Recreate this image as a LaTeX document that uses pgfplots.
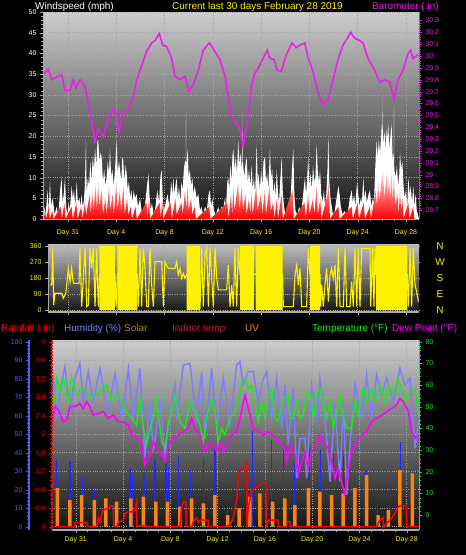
\documentclass[border=0pt]{standalone}
\usepackage{fontspec}
\setmainfont{Liberation Sans}
\usepackage{pgfplots}
\pgfplotsset{compat=1.18}
\definecolor{bgtop}{RGB}{205,205,205}
\definecolor{bgtoptwo}{RGB}{190,190,190}
\definecolor{bgbot}{RGB}{20,20,20}
\definecolor{baro}{RGB}{235,30,235}
\definecolor{humid}{RGB}{125,125,255}
\definecolor{humaxis}{RGB}{90,90,255}
\definecolor{solarc}{RGB}{30,40,255}
\definecolor{uvc}{RGB}{255,130,20}
\definecolor{tempg}{RGB}{20,240,20}
\definecolor{dew}{RGB}{255,0,255}
\definecolor{olivec}{RGB}{150,150,0}
\definecolor{indoor}{RGB}{200,30,70}
\definecolor{gridc}{RGB}{165,165,165}
\definecolor{axgray}{RGB}{170,170,170}
\newcommand{\tf}{\fontsize{10}{12}\selectfont}
\pgfplotsset{
  base/.style={scale only axis, anchor=south west,
    /pgf/number format/assume math mode=true,
    tick label style={font=\fontsize{7}{8}\selectfont},
    tick align=outside, major tick length=3bp, minor tick length=1.5bp,
    grid style={dotted, gridc, line width=0.5bp}},
  daylabels/.style={xtick={0,4,...,28},
    xticklabels={Day 31,Day 4,Day 8,Day 12,Day 16,Day 20,Day 24,Day 28},
    xticklabel style={text=yellow}}
}
\begin{document}
\begin{tikzpicture}
\fill[black] (0,0) rectangle (466bp,-555bp);

% ---------------- Panel 1: wind speed ----------------
\begin{axis}[base, daylabels, at={(43bp,-219bp)}, width=376bp, height=207bp,
  xmin=-2.07, xmax=29.08, ymin=0, ymax=50,
  axis background/.style={top color=bgtop, bottom color=bgbot},
  axis x line*=bottom, axis y line*=left,
  x axis line style={axgray, line width=1.5bp},
  y axis line style={axgray, line width=1bp},
  tick style={axgray}, minor x tick num=3,
  ytick={0,5,...,50}, minor y tick num=4,
  yticklabel style={text=white},
  xticklabel style={yshift=-4bp},
  xmajorgrids, ymajorgrids]
\addplot[fill=white, draw=none] coordinates {
(-2.05,0) (-1.95,3) (-1.85,1) (-1.70,7) (-1.60,2) (-1.49,9) (-1.40,3) (-1.30,5) (-1.22,4) (-1.10,1)
(-0.95,3) (-0.80,1) (-0.65,7) (-0.53,10) (-0.45,4) (-0.35,6) (-0.25,10) (-0.15,3) (-0.05,1) (0.05,4)
(0.15,2) (0.30,8) (0.40,5) (0.50,7) (0.60,3) (0.72,9) (0.82,4) (0.95,5) (1.05,3) (1.13,6)
(1.22,3) (1.30,4) (1.40,8) (1.49,19) (1.55,6) (1.65,10) (1.75,8) (1.85,14) (1.95,9) (2.05,15)
(2.15,12) (2.24,17) (2.35,13) (2.45,19) (2.51,19) (2.60,14) (2.70,16) (2.79,15) (2.90,9) (3.00,12)
(3.10,8) (3.20,10) (3.30,14) (3.40,11) (3.48,17) (3.58,10) (3.68,12) (3.78,8) (3.90,12) (4.03,19)
(4.12,11) (4.22,14) (4.31,12) (4.42,9) (4.50,15) (4.58,14) (4.68,9) (4.78,13) (4.86,11) (4.95,7)
(5.05,9) (5.15,5) (5.25,7) (5.35,4) (5.45,7) (5.55,5) (5.69,6) (5.80,3) (5.97,5) (6.10,2)
(6.25,1) (6.40,4) (6.55,8) (6.66,11) (6.75,6) (6.85,2) (6.95,4) (7.10,1) (7.25,3) (7.40,7)
(7.55,4) (7.65,10) (7.76,12) (7.85,5) (7.95,2) (8.10,4) (8.25,6) (8.40,3) (8.55,9) (8.65,6)
(8.73,10) (8.82,6) (8.90,8) (9.00,10) (9.10,5) (9.20,8) (9.30,4) (9.40,9) (9.50,7) (9.60,12)
(9.70,14) (9.76,14) (9.78,26) (9.80,12) (9.91,17) (10.00,10) (10.10,12) (10.20,8) (10.30,10) (10.40,6)
(10.50,8) (10.66,5) (10.80,6) (10.94,2) (11.05,3) (11.20,1) (11.35,3) (11.50,2) (11.65,6) (11.76,7)
(11.85,3) (11.95,5) (12.10,2) (12.25,1) (12.45,3) (12.55,1) (12.70,3) (12.85,2) (13.00,5) (13.10,3)
(13.20,9) (13.28,10) (13.36,7) (13.45,13) (13.55,9) (13.62,15) (13.70,17) (13.80,12) (13.90,15) (14.00,11)
(14.11,19) (14.20,13) (14.30,16) (14.40,12) (14.45,14) (14.47,26) (14.49,14) (14.60,10) (14.70,13) (14.80,15)
(14.90,9) (15.00,12) (15.10,8) (15.22,13) (15.30,7) (15.40,10) (15.50,6) (15.63,18) (15.72,9) (15.80,11)
(15.90,7) (16.00,12) (16.10,8) (16.20,14) (16.32,15) (16.40,9) (16.50,11) (16.60,7) (16.73,17) (16.82,10)
(16.92,12) (17.02,6) (17.12,9) (17.20,5) (17.29,12) (17.38,7) (17.48,4) (17.58,9) (17.70,15) (17.80,6)
(17.90,3) (18.00,1) (18.15,2) (18.30,1) (18.45,5) (18.55,12) (18.67,17) (18.75,6) (18.85,2) (19.00,1)
(19.15,3) (19.30,1) (19.45,5) (19.55,8) (19.63,10) (19.72,6) (19.80,9) (19.90,15) (20.00,8) (20.10,11)
(20.20,7) (20.30,13) (20.40,9) (20.50,10) (20.60,18) (20.70,11) (20.80,9) (20.88,12) (20.98,6) (21.10,4)
(21.20,7) (21.30,3) (21.40,6) (21.50,12) (21.57,20) (21.65,9) (21.75,5) (21.85,3) (21.95,1) (22.10,2)
(22.25,5) (22.40,8) (22.50,6) (22.60,3) (22.75,1) (22.90,2) (23.05,1) (23.20,2) (23.35,5) (23.50,7)
(23.60,4) (23.70,6) (23.80,3) (23.95,9) (24.05,6) (24.15,3) (24.25,5) (24.35,4) (24.47,10) (24.55,5)
(24.65,7) (24.75,4) (24.90,6) (25.02,7) (25.12,3) (25.25,5) (25.35,4) (25.45,12) (25.57,19) (25.65,15)
(25.75,19) (25.85,16) (25.95,20) (25.99,23) (26.05,20) (26.07,29.5) (26.09,18) (26.22,21) (26.32,17) (26.40,22)
(26.47,19) (26.54,23) (26.62,17) (26.72,20) (26.81,23) (26.90,14) (26.99,16) (27.01,27.3) (27.03,12) (27.15,10)
(27.25,13) (27.35,8) (27.45,11) (27.51,16) (27.60,12) (27.70,14) (27.80,8) (27.90,5) (28.00,7) (28.10,3)
(28.20,10) (28.30,6) (28.40,8) (28.50,4) (28.61,8) (28.70,3) (28.80,6) (28.90,2) (29.00,1) (29.08,0)
} \closedcycle;
\addplot[draw=none, top color=red!10!white, bottom color=red] coordinates {
(-2.0,0) (-1.9,2) (-1.8,0) (-1.6,3) (-1.5,0) (-1.3,2) (-1.2,0) (-0.6,3) (-0.5,0) (-0.3,4) (-0.2,0)
(0.3,3) (0.4,0) (0.7,4) (0.8,0) (1.1,3) (1.2,0) (1.4,4) (1.5,1) (1.8,6) (1.9,1) (2.0,7) (2.1,2)
(2.3,8) (2.4,2) (2.5,9) (2.6,3) (2.8,7) (2.9,1) (3.1,5) (3.2,1) (3.4,8) (3.5,2) (3.7,6) (3.8,1)
(4.0,9) (4.1,2) (4.3,7) (4.4,2) (4.6,8) (4.7,1) (4.9,5) (5.0,1) (5.2,3) (5.3,0) (5.6,3) (5.7,0)
(6.5,4) (6.6,0) (6.7,5) (6.8,0) (7.6,4) (7.7,0) (7.8,5) (7.9,0) (8.5,4) (8.6,0) (8.9,5) (9.0,1)
(9.4,4) (9.5,1) (9.7,7) (9.8,2) (9.9,8) (10.0,2) (10.2,5) (10.3,1) (10.5,3) (10.6,0) (11.7,3) (11.8,0)
(13.2,4) (13.3,0) (13.5,6) (13.6,1) (13.7,8) (13.8,2) (14.1,9) (14.2,2) (14.4,8) (14.5,2) (14.7,6)
(14.8,1) (15.0,5) (15.1,1) (15.2,6) (15.3,1) (15.6,8) (15.7,2) (16.0,6) (16.1,1) (16.3,7) (16.4,1)
(16.7,8) (16.8,2) (17.0,4) (17.1,0) (17.3,5) (17.4,0) (17.7,6) (17.8,0) (18.6,7) (18.7,0) (19.6,4)
(19.7,0) (19.9,6) (20.0,1) (20.3,5) (20.4,1) (20.6,8) (20.7,1) (20.9,5) (21.0,0) (21.5,6) (21.6,9)
(21.7,0) (22.4,3) (22.5,0) (23.5,3) (23.6,0) (24.0,4) (24.1,0) (24.5,4) (24.6,0) (25.0,3) (25.1,0)
(25.5,7) (25.6,3) (25.7,9) (25.8,4) (26.0,10) (26.1,12) (26.2,5) (26.4,11) (26.5,6) (26.6,10)
(26.7,5) (26.8,12) (26.9,4) (27.0,11) (27.1,3) (27.3,6) (27.4,1) (27.5,7) (27.6,2) (27.7,5) (27.8,0)
(28.2,4) (28.3,0) (28.6,3) (28.7,0) (29.0,0)
} \closedcycle;
\end{axis}

\begin{axis}[base, at={(43bp,-219bp)}, width=376bp, height=207bp,
  xmin=-2.07, xmax=29.08, ymin=28.627, ymax=30.3705,
  axis y line*=right, axis x line=none,
  ytick={28.7,28.8,28.9,29,29.1,29.2,29.3,29.4,29.5,29.6,29.7,29.8,29.9,30,30.1,30.2,30.3},
  minor y tick num=4,
  y axis line style={baro, line width=1bp},
  tick style={baro}, yticklabel style={text=baro}]
\addplot[baro, line width=1.6bp] coordinates {
(-1.99,29.85) (-1.63,29.89) (-1.35,29.80) (-0.80,29.83) (-0.52,29.84) (-0.25,29.71) (0.17,29.71)
(0.44,29.80) (0.66,29.73) (0.99,29.80) (1.41,29.74) (1.68,29.60) (1.96,29.44) (2.24,29.28)
(2.51,29.39) (2.92,29.32) (3.34,29.46) (3.75,29.56) (4.03,29.52) (4.23,29.36) (4.53,29.52)
(5.00,29.55) (5.41,29.66) (5.69,29.80) (5.97,29.88) (6.52,30.04) (6.93,30.11) (7.21,30.13)
(7.56,30.19) (7.85,30.09) (8.18,30.08) (8.59,29.98) (8.86,29.83) (9.28,29.80) (9.69,29.83)
(10.02,29.70) (10.38,29.76) (10.80,29.88) (11.21,30.05) (11.71,30.11) (12.04,30.06) (12.59,29.97)
(13.01,29.83) (13.42,29.56) (13.53,29.49) (13.94,29.43) (14.23,29.39) (14.50,29.24) (14.64,29.32)
(14.91,29.49) (15.19,29.74) (15.47,29.85) (15.88,29.92) (16.16,29.98) (16.51,30.05) (16.71,29.98)
(17.07,29.97) (17.34,29.88) (17.67,29.87) (18.09,30.01) (18.56,30.11) (18.91,30.07) (19.20,30.09)
(19.61,30.11) (19.88,29.99) (20.30,29.87) (20.71,29.69) (21.13,29.59) (21.54,29.63) (21.96,29.80)
(22.37,29.97) (22.78,30.09) (23.20,30.16) (23.42,30.20) (23.75,30.15) (24.17,30.13) (24.44,30.11)
(24.85,29.98) (25.41,29.88) (25.82,29.78) (26.24,29.80) (26.65,29.78) (27.01,29.64) (27.34,29.80)
(27.76,29.88) (28.17,30.02) (28.39,30.05) (28.58,29.98) (29.00,30.01)
};
\end{axis}

% ---------------- Panel 2: wind direction ----------------
\begin{axis}[base, at={(48bp,-312bp)}, width=371bp, height=68bp,
  xmin=-1.66, xmax=29.08, ymin=-11.25, ymax=371.25,
  axis background/.style={top color=bgtoptwo, bottom color=bgbot},
  axis x line*=bottom, axis y line*=left,
  x axis line style={axgray, line width=1.2bp},
  y axis line style={axgray, line width=1bp},
  tick style={axgray},
  xtick={0,4,...,28}, xticklabels={},
  ytick={0,90,180,270,360}, yticklabel style={text=yellow},
  xmajorgrids, ymajorgrids]
\addplot[const plot, fill=yellow, draw=none] coordinates {
(-1.66,0) (2.60,360) (3.89,0) (4.09,360) (5.74,0) (9.83,360) (10.94,0) (14.25,360) (15.41,0)
(15.55,360) (17.78,0) (20.05,360) (20.88,0) (25.52,360) (28.11,0) (29.08,0)
} \closedcycle;
\addplot[yellow, line width=1.1bp] coordinates {
(-1.49,141) (-1.35,141) (-1.27,347) (-1.19,28) (-1.08,94) (-0.52,94) (-0.39,66) (-0.19,94)
(-0.11,141) (0.03,234) (0.17,159) (0.30,234) (0.44,150) (0.91,150) (0.99,347) (1.13,19)
(1.41,347) (1.55,19) (1.68,28) (1.82,347) (1.96,234) (2.10,347) (2.24,19) (2.37,347) (2.51,19)
(2.60,200) (3.89,200) (3.98,19) (4.09,200) (5.74,200) (5.83,19) (5.97,347) (6.10,19) (6.24,347)
(6.38,234) (6.52,19) (6.65,19) (6.79,347) (6.93,141) (7.07,19) (7.21,272) (7.48,272) (7.76,272)
(7.90,19) (8.03,272) (8.31,234) (8.86,234) (9.00,272) (9.14,197) (9.28,234) (9.42,178) (9.55,206)
(9.69,178) (9.83,200) (10.94,19) (11.07,347) (11.21,19) (11.35,309) (11.49,347) (11.63,19)
(11.76,347) (12.04,19) (12.18,347) (12.32,178) (12.45,113) (13.14,113) (13.28,253) (13.42,19)
(13.56,141) (13.70,19) (13.83,347) (13.97,19) (14.11,347) (14.25,200) (17.78,200) (17.84,19)
(18.67,19) (18.81,197) (18.95,253) (19.08,141) (19.22,234) (19.36,19) (19.77,19) (19.91,347)
(20.05,200) (20.88,200) (20.93,19) (21.02,141) (21.15,19) (21.29,141) (21.43,234) (21.57,47)
(21.71,197) (21.84,234) (21.98,178) (22.12,253) (22.26,19) (22.40,347) (22.54,19) (22.81,19)
(22.95,347) (23.09,19) (23.36,19) (23.50,159) (23.64,19) (23.78,347) (23.92,19) (24.05,347)
(24.19,19) (24.33,347) (25.02,347) (25.08,19) (25.24,347) (25.35,19) (25.43,347) (25.52,200)
(28.11,200) (28.20,19) (28.34,347) (28.47,19) (28.61,347) (28.75,141) (28.89,103) (29.03,47)
};
\end{axis}

\begin{axis}[base, at={(48bp,-312bp)}, width=371bp, height=68bp,
  xmin=-1.66, xmax=29.08, ymin=-11.25, ymax=371.25,
  axis y line*=right, axis x line=none,
  y axis line style={draw=none}, major tick length=0,
  ytick={0,90,180,270,360}, yticklabels={N,E,S,W,N},
  yticklabel style={text=yellow, font=\tf, anchor=center, xshift=21bp}]
\end{axis}

% ---------------- Panel 3: humidity, solar, UV ----------------
\begin{axis}[base, daylabels, at={(52bp,-530bp)}, width=367bp, height=190bp,
  xmin=-2.01, xmax=29.04, ymin=-1.78, ymax=100.92,
  axis background/.style={top color=bgtop, bottom color=bgbot},
  axis x line*=bottom, axis y line*=left,
  x axis line style={axgray, line width=1.5bp},
  y axis line style={draw=none},
  tick style={axgray}, minor x tick num=3,
  ytick={0,10,...,100}, yticklabels={}, ytick style={draw=none},
  xmajorgrids, ymajorgrids]
\addplot[ycomb, solarc, line width=1.3bp] coordinates {
(-1.62,36) (-0.49,35.5) (0.58,27.4) (1.57,21) (4.59,31.6) (4.81,28) (5.77,29) (6.70,36) (7.63,34.6)
(7.83,31.6) (8.67,38.2) (9.72,30.7) (10.79,36) (11.78,41.8) (12.85,9) (14.93,52) (16.57,46.8)
(17.56,45) (18.49,34.6) (19.76,43) (20.71,41.8) (21.79,40) (22.64,38) (24.55,30.7) (25.51,11.7)
(27.48,46) (28.56,11)
};
\addplot[ybar, bar width=3.5bp, fill=uvc, draw=none] coordinates {
(-1.56,20.8) (-0.49,14.4) (0.50,17.1) (1.57,14.4) (2.55,15.3) (3.46,13.5) (4.67,15.3) (5.71,16.2)
(6.78,13.5) (7.77,13.5) (8.81,10.8) (9.80,15.3) (10.79,12.6) (11.78,17.1) (12.85,6.3) (13.83,9.9)
(14.74,16.2) (15.58,18.0) (16.65,13.5) (17.70,15.3) (18.54,11.7) (19.67,20.8) (20.66,18.9)
(21.65,17.1) (22.63,18.0) (23.62,20.8) (24.61,28.0) (25.59,6.3) (26.44,9.0) (27.43,30.6) (28.47,28.8)
};
\addplot[humid, line width=1.5bp] coordinates {
(-2.0,70) (-1.90,82.0) (-1.62,58.6) (-1.3,75) (-0.91,86.5) (-0.49,62.2) (-0.1,80) (0.35,88.3)
(0.64,67.6) (1.06,83.8) (1.48,67.6) (2.05,85.6) (2.4,72) (2.75,62.2) (3.32,82.9) (3.88,58.6)
(4.45,85.6) (4.87,58.6) (5.43,85.6) (5.85,37.0) (6.28,67.6) (6.56,40.6) (7.12,67.6) (7.55,38.8)
(8.11,67.6) (8.39,76.6) (8.53,58.6) (9.10,87.4) (9.66,88.3) (10.22,58.6) (10.65,83.8) (10.93,47.8)
(11.50,85.6) (11.92,53.2) (12.48,80.2) (13.04,55.0) (13.61,87.4) (13.89,89.2) (14.17,76.6)
(14.60,83.8) (15.02,83.8) (15.44,67.6) (15.87,80.2) (16.15,83.8) (16.57,58.6) (16.99,80.2)
(17.42,53.2) (17.70,76.6) (17.98,44.2) (18.40,74.8) (18.69,26.2) (18.97,47.8) (19.40,47.8)
(19.53,26.2) (19.96,76.6) (20.38,58.6) (20.66,80.2) (21.08,58.6) (21.51,24.4) (21.93,67.6)
(22.35,24.4) (22.64,67.6) (22.92,17.2) (23.20,44.2) (23.62,76.6) (24.19,58.6) (24.61,82.0)
(25.03,58.6) (25.46,82.0) (25.88,71.2) (26.30,80.2) (26.87,67.6) (27.43,85.6) (27.85,76.6)
(28.28,80.2) (28.70,42.4) (29.02,58.6)
};
\end{axis}

% humidity scale (outer left)
\begin{axis}[base, at={(29bp,-530bp)}, width=1bp, height=190bp,
  xmin=0, xmax=1, ymin=-1.78, ymax=100.92,
  axis y line*=left, axis x line=none,
  y axis line style={humaxis, line width=2.5bp},
  tick style={humaxis}, yticklabel style={text=humaxis},
  ytick={0,10,...,100}, minor y tick num=4]
\end{axis}

% temperature / dew point (right)
\begin{axis}[base, at={(52bp,-530bp)}, width=367bp, height=190bp,
  xmin=-2.01, xmax=29.04, ymin=-6.92, ymax=80.78,
  axis y line*=right, axis x line=none,
  y axis line style={tempg, line width=1bp},
  tick style={tempg}, yticklabel style={text=tempg},
  ytick={0,10,...,80}, minor y tick num=4]
\addplot[tempg, line width=1.3bp] coordinates {
(-2.0,45) (-1.90,47.7) (-1.62,63.1) (-1.34,56.9) (-1.05,63.1) (-0.63,52.3) (-0.35,63.8) (0.07,55.4)
(0.50,58.5) (0.92,56.9) (1.34,53.8) (1.77,55.4) (2.33,58.5) (2.61,60.0) (3.04,52.3) (3.46,56.2)
(3.88,52.3) (4.30,47.7) (4.72,44.6) (5.15,41.5) (5.43,53.8) (5.71,40.0) (5.99,32.3) (6.28,40.0)
(6.56,44.6) (6.84,53.8) (7.27,33.8) (7.55,30.8) (7.83,43.1) (8.11,47.7) (8.39,55.4) (8.81,43.1)
(9.24,40.0) (9.66,52.3) (10.09,47.7) (10.51,41.5) (10.79,33.8) (11.07,44.6) (11.50,53.8) (11.78,47.7)
(12.06,33.8) (12.34,40.0) (12.62,36.9) (13.04,44.6) (13.47,47.7) (13.75,52.3) (14.03,60.0) (14.32,63.1)
(14.60,58.5) (14.88,60.0) (15.16,52.3) (15.44,43.1) (15.73,52.3) (16.01,44.6) (16.29,55.4) (16.57,58.5)
(16.85,44.6) (17.14,43.1) (17.56,53.8) (17.98,55.4) (18.12,44.6) (18.40,44.6) (18.69,52.3) (18.97,44.6)
(19.25,46.1) (19.53,56.9) (19.82,56.9) (20.10,44.6) (20.38,55.4) (20.66,58.5) (20.94,52.3) (21.23,44.6)
(21.51,52.3) (21.79,40.0) (22.07,47.7) (22.35,55.4) (22.64,44.6) (22.92,40.0) (23.34,40.0) (23.62,52.3)
(23.90,46.1) (24.33,58.5) (24.61,52.3) (25.03,58.5) (25.31,52.3) (25.74,60.0) (26.16,52.3) (26.44,60.0)
(26.87,55.4) (27.29,63.1) (27.57,58.5) (27.85,52.3) (28.28,56.9) (28.70,58.5) (28.98,46.1)
};
\addplot[dew, line width=1.6bp] coordinates {
(-2.0,42.3) (-1.76,50.0) (-1.48,48.4) (-1.05,43.1) (-0.77,43.8) (-0.49,50.0) (-0.07,50.0) (0.35,51.5)
(0.64,49.2) (0.92,52.3) (1.20,50.0) (1.48,46.1) (1.91,46.9) (2.33,47.7) (2.75,44.6) (3.18,46.1)
(3.60,43.1) (4.02,43.1) (4.45,41.5) (4.72,36.9) (5.15,35.4) (5.57,33.8) (5.85,23.1) (6.28,27.7)
(6.56,33.8) (6.84,30.8) (7.27,27.7) (7.55,24.6) (7.83,32.3) (8.25,35.4) (8.67,36.9) (9.10,38.5)
(9.52,40.0) (9.80,44.6) (10.09,40.0) (10.51,36.9) (10.93,29.2) (11.21,32.3) (11.64,32.3) (11.92,29.2)
(12.20,33.8) (12.48,29.2) (12.76,32.3) (13.19,36.9) (13.61,38.5) (13.89,44.6) (14.32,55.4) (14.60,49.2)
(15.02,40.0) (15.44,38.5) (15.87,36.9) (16.29,38.5) (16.71,36.9) (17.14,33.8) (17.56,32.3) (17.84,24.6)
(18.12,32.3) (18.55,27.7) (18.83,18.5) (19.11,24.6) (19.39,29.2) (19.67,21.5) (19.96,29.2) (20.24,30.8)
(20.66,36.9) (20.94,33.8) (21.37,30.8) (21.65,24.6) (21.93,16.9) (22.21,21.5) (22.49,15.4) (22.78,9.2)
(23.06,21.5) (23.34,29.2) (23.76,33.8) (24.19,36.9) (24.61,38.5) (25.03,43.1) (25.46,44.6) (25.88,46.1)
(26.30,47.7) (26.72,49.2) (27.15,50.8) (27.43,53.8) (27.71,52.3) (28.14,47.7) (28.42,38.5) (28.70,35.4)
(28.98,36.9)
};
\end{axis}

% rainfall (inner left)
\begin{axis}[base, at={(52bp,-530bp)}, width=367bp, height=190bp,
  xmin=-2.01, xmax=29.04, ymin=-0.071, ymax=4.037,
  axis y line*=left, axis x line=none,
  y axis line style={red, line width=1.2bp, dash pattern=on 2bp off 1bp},
  tick style={red}, yticklabel style={text=red},
  ytick={0,0.4,0.8,1.2,1.6,2,2.4,2.8,3.2,3.6,4}, minor y tick num=3]
\addplot[red, line width=1.5bp] coordinates {
(-2.01,0) (-0.07,0) (-0.05,0.09) (0.98,0.09) (1.00,0) (1.76,0) (1.91,0.20) (2.05,0.09) (2.19,0.29)
(2.33,0.36) (2.61,0.39) (3.03,0.45) (3.18,0.45) (3.20,0) (3.46,0) (3.60,0.09) (4.02,0.14) (4.16,0.29)
(4.44,0.32) (4.73,0.32) (5.01,0.36) (5.15,0.54) (5.17,0) (5.29,0.02) (5.99,0.02) (6.01,0) (8.81,0)
(8.96,0.43) (9.10,0.54) (9.32,0.54) (9.34,0) (9.80,0) (9.94,0.11) (10.23,0.20) (10.37,0.09) (10.51,0.14)
(11.21,0.14) (11.23,0) (12.76,0) (13.05,0.04) (13.33,0.20) (13.47,0.36) (13.61,0.57) (13.83,1.19)
(14.03,1.23) (14.31,1.30) (14.46,1.37) (14.48,0) (14.60,0.43) (14.88,0.76) (15.02,0.81) (15.44,0.87)
(15.73,0.94) (16.09,0.94) (16.11,0) (16.29,0.14) (17.13,0.14) (17.15,0) (17.84,0) (17.90,0.11)
(18.12,0.11) (18.14,0) (25.45,0) (25.74,0.14) (26.02,0.20) (26.04,0) (26.30,0.07) (26.72,0.18)
(27.00,0.29) (27.29,0.43) (27.43,0.45) (27.99,0.45) (28.01,0) (29.04,0)
};
\end{axis}

% ---------------- titles ----------------
\begin{scope}[every node/.style={anchor=base west, inner sep=0pt, font=\tf}]
\node[text=white] at (35bp,-9bp) {Windspeed (mph)};
\node[text=yellow] at (172bp,-9bp) {Current last 30 days February 28 2019};
\node[text=baro] at (372bp,-9bp) {Barometer (.in)};
\node[text=red] at (1bp,-331bp) {Rainfall (.in)};
\node[text=humid] at (64bp,-331bp) {Humidity (\%)};
\node[text=olivec] at (124bp,-331bp) {Solar};
\node[text=indoor] at (172bp,-331bp) {Indoor temp};
\node[text=uvc] at (245bp,-331bp) {UV};
\node[text=tempg] at (312bp,-331bp) {Temperature (°F)};
\node[text=dew] at (392bp,-331bp) {Dew Point (°F)};
\end{scope}

\pgfresetboundingbox
\path[use as bounding box] (0,0) rectangle (466bp,-555bp);
\end{tikzpicture}
\end{document}
